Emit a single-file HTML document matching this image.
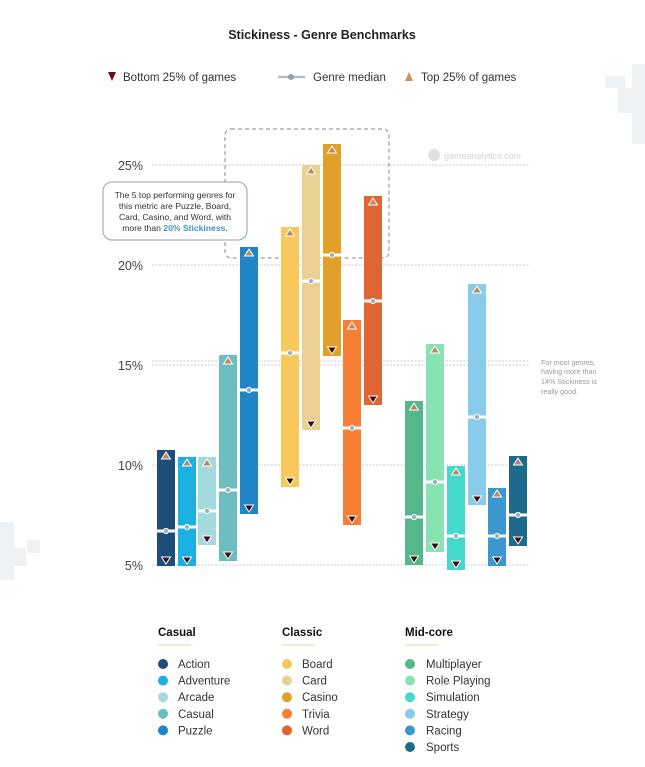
<!DOCTYPE html>
<html><head><meta charset="utf-8"><style>
html,body{margin:0;padding:0;background:#fff;}
svg{display:block;font-family:"Liberation Sans",sans-serif;}
</style></head><body>
<svg width="645" height="767" viewBox="0 0 645 767" xmlns="http://www.w3.org/2000/svg">
<rect width="645" height="767" fill="#fff"/>
<g fill="#eef2f5">
<rect x="632" y="64" width="13" height="80"/><rect x="605" y="76" width="20" height="12"/><rect x="618" y="88" width="14" height="25"/>
<rect x="0" y="522" width="14" height="58"/><rect x="14" y="548" width="12" height="18"/><rect x="27" y="540" width="13" height="13"/>
</g>
<text x="322" y="39" text-anchor="middle" font-size="12.5" font-weight="bold" fill="#222">Stickiness - Genre Benchmarks</text>
<polygon points="108,72 116,72 112,81" fill="#6b0f14"/>
<text x="123" y="81" font-size="11.5" fill="#333">Bottom 25% of games</text>
<line x1="278" y1="77" x2="305" y2="77" stroke="#b8bcc0" stroke-width="2.5"/>
<circle cx="291" cy="77" r="3" fill="#9aa0a6"/>
<text x="313" y="81" font-size="11.5" fill="#333">Genre median</text>
<polygon points="405,81 413,81 409,72" fill="#d0915a"/>
<text x="421" y="81" font-size="11.5" fill="#333">Top 25% of games</text>
<g stroke="#c5ccd3" stroke-width="1" stroke-dasharray="2,1.5">
<line x1="152" y1="165" x2="530" y2="165"/>
<line x1="152" y1="265" x2="530" y2="265"/>
<line x1="152" y1="361" x2="530" y2="361"/>
<line x1="152" y1="365" x2="530" y2="365"/>
<line x1="152" y1="465" x2="530" y2="465"/>
<line x1="152" y1="565" x2="530" y2="565"/>
</g>
<g font-size="12.5" fill="#444" text-anchor="end">
<text x="143" y="170">25%</text><text x="143" y="270">20%</text><text x="143" y="370">15%</text><text x="143" y="470">10%</text><text x="143" y="570">5%</text>
</g>
<circle cx="434" cy="155" r="6" fill="#dfe2e5"/>
<text x="444" y="159" font-size="9" fill="#d0d4d8">gameanalytics.com</text>
<rect x="225" y="129" width="164" height="129" rx="6" fill="none" stroke="#7e8e9a" stroke-width="1" stroke-dasharray="4,3"/>
<rect x="103" y="182" width="144" height="58" rx="9" fill="#fff" stroke="#8fa3b3" stroke-width="1"/>
<g font-size="8.6" fill="#333" text-anchor="middle">
<text x="175" y="198">The 5 top performing genres for</text>
<text x="175" y="209">this metric are Puzzle, Board,</text>
<text x="175" y="220">Card, Casino, and Word, with</text>
<text x="175" y="231">more than <tspan fill="#3b95c9" font-weight="bold">20% Stickiness</tspan>.</text>
</g>
<g font-size="7.2" fill="#999">
<text x="541" y="365">For most genres,</text><text x="541" y="374">having more than</text><text x="541" y="384">14% Stickiness is</text><text x="541" y="394">really good.</text>
</g>
<!-- bars -->
<g>
<rect x="157" y="450" width="18" height="116" fill="#1d4e79"/>
<rect x="178" y="457" width="18" height="109" fill="#1ab0e0"/>
<rect x="198" y="457" width="18" height="88" fill="#a3dadd"/>
<rect x="219" y="355" width="18" height="206" fill="#6cbdbd"/>
<rect x="240" y="247" width="18" height="267" fill="#2185c9"/>
<rect x="281" y="227" width="18" height="260" fill="#f8c95a"/>
<rect x="302" y="165" width="18" height="265" fill="#ebd093"/>
<rect x="323" y="144" width="18" height="212" fill="#e0a02a"/>
<rect x="343" y="320" width="18" height="205" fill="#f77e35"/>
<rect x="364" y="196" width="18" height="209" fill="#e06532"/>
<rect x="405" y="401" width="18" height="164" fill="#55b88a"/>
<rect x="426" y="344" width="18" height="208" fill="#88e3b2"/>
<rect x="447" y="466" width="18" height="104" fill="#45d8cc"/>
<rect x="468" y="284" width="18" height="221" fill="#88cbea"/>
<rect x="488" y="488" width="18" height="78" fill="#3c97cf"/>
<rect x="509" y="456" width="18" height="90" fill="#1d6a8c"/>
</g>
<g fill="#fff">
<rect x="156" y="529.5" width="20" height="3"/>
<rect x="177" y="525.5" width="20" height="3"/>
<rect x="197" y="509.5" width="20" height="3"/>
<rect x="218" y="488.5" width="20" height="3"/>
<rect x="239" y="388.5" width="20" height="3"/>
<rect x="280" y="351.5" width="20" height="3"/>
<rect x="301" y="279.5" width="20" height="3"/>
<rect x="322" y="253.5" width="20" height="3"/>
<rect x="342" y="426.5" width="20" height="3"/>
<rect x="363" y="299.5" width="20" height="3"/>
<rect x="404" y="515.5" width="20" height="3"/>
<rect x="425" y="480.5" width="20" height="3"/>
<rect x="446" y="534.5" width="20" height="3"/>
<rect x="467" y="415.5" width="20" height="3"/>
<rect x="487" y="534.5" width="20" height="3"/>
<rect x="508" y="513.5" width="20" height="3"/>
</g>
<g fill="#9fb0b8" stroke="#fff" stroke-width="1">
<circle cx="166" cy="531" r="2.6"/><circle cx="187" cy="527" r="2.6"/><circle cx="207" cy="511" r="2.6"/><circle cx="228" cy="490" r="2.6"/><circle cx="249" cy="390" r="2.6"/>
<circle cx="290" cy="353" r="2.6"/><circle cx="311" cy="281" r="2.6"/><circle cx="332" cy="255" r="2.6"/><circle cx="352" cy="428" r="2.6"/><circle cx="373" cy="301" r="2.6"/>
<circle cx="414" cy="517" r="2.6"/><circle cx="435" cy="482" r="2.6"/><circle cx="456" cy="536" r="2.6"/><circle cx="477" cy="417" r="2.6"/><circle cx="497" cy="536" r="2.6"/><circle cx="518" cy="515" r="2.6"/>
</g>
<g fill="#b98a62" stroke="#fff" stroke-width="1">
<polygon points="0,2 -4.5,9 4.5,9" transform="translate(166,450)"/>
<polygon points="0,2 -4.5,9 4.5,9" transform="translate(187,457)"/>
<polygon points="0,2 -4.5,9 4.5,9" transform="translate(207,457)"/>
<polygon points="0,2 -4.5,9 4.5,9" transform="translate(228,355)"/>
<polygon points="0,2 -4.5,9 4.5,9" transform="translate(249,247)"/>
<polygon points="0,2 -4.5,9 4.5,9" transform="translate(290,227)"/>
<polygon points="0,2 -4.5,9 4.5,9" transform="translate(311,165)"/>
<polygon points="0,2 -4.5,9 4.5,9" transform="translate(332,144)"/>
<polygon points="0,2 -4.5,9 4.5,9" transform="translate(352,320)"/>
<polygon points="0,2 -4.5,9 4.5,9" transform="translate(373,196)"/>
<polygon points="0,2 -4.5,9 4.5,9" transform="translate(414,401)"/>
<polygon points="0,2 -4.5,9 4.5,9" transform="translate(435,344)"/>
<polygon points="0,2 -4.5,9 4.5,9" transform="translate(456,466)"/>
<polygon points="0,2 -4.5,9 4.5,9" transform="translate(477,284)"/>
<polygon points="0,2 -4.5,9 4.5,9" transform="translate(497,488)"/>
<polygon points="0,2 -4.5,9 4.5,9" transform="translate(518,456)"/>
</g>
<g fill="#3b0b0f" stroke="#fff" stroke-width="1">
<polygon points="-4.5,-9 4.5,-9 0,-2" transform="translate(166,566)"/>
<polygon points="-4.5,-9 4.5,-9 0,-2" transform="translate(187,566)"/>
<polygon points="-4.5,-9 4.5,-9 0,-2" transform="translate(207,545)"/>
<polygon points="-4.5,-9 4.5,-9 0,-2" transform="translate(228,561)"/>
<polygon points="-4.5,-9 4.5,-9 0,-2" transform="translate(249,514)"/>
<polygon points="-4.5,-9 4.5,-9 0,-2" transform="translate(290,487)"/>
<polygon points="-4.5,-9 4.5,-9 0,-2" transform="translate(311,430)"/>
<polygon points="-4.5,-9 4.5,-9 0,-2" transform="translate(332,356)"/>
<polygon points="-4.5,-9 4.5,-9 0,-2" transform="translate(352,525)"/>
<polygon points="-4.5,-9 4.5,-9 0,-2" transform="translate(373,405)"/>
<polygon points="-4.5,-9 4.5,-9 0,-2" transform="translate(414,565)"/>
<polygon points="-4.5,-9 4.5,-9 0,-2" transform="translate(435,552)"/>
<polygon points="-4.5,-9 4.5,-9 0,-2" transform="translate(456,570)"/>
<polygon points="-4.5,-9 4.5,-9 0,-2" transform="translate(477,505)"/>
<polygon points="-4.5,-9 4.5,-9 0,-2" transform="translate(497,566)"/>
<polygon points="-4.5,-9 4.5,-9 0,-2" transform="translate(518,546)"/>
</g>
<!-- bottom legend -->
<g font-size="11.5" font-weight="bold" fill="#111">
<text x="158" y="636">Casual</text><text x="282" y="636">Classic</text><text x="405" y="636">Mid-core</text>
</g>
<g stroke="#e8d6a8" stroke-width="1">
<line x1="158" y1="645" x2="191" y2="645"/><line x1="282" y1="645" x2="315" y2="645"/><line x1="405" y1="645" x2="438" y2="645"/>
</g>
<g>
<circle cx="163" cy="664" r="5" fill="#1d4e79"/><circle cx="163" cy="680.6" r="5" fill="#1ab0e0"/><circle cx="163" cy="697.2" r="5" fill="#a3dadd"/><circle cx="163" cy="713.8" r="5" fill="#6cbdbd"/><circle cx="163" cy="730.4" r="5" fill="#2185c9"/>
<circle cx="287" cy="664" r="5" fill="#f8c95a"/><circle cx="287" cy="680.6" r="5" fill="#ebd093"/><circle cx="287" cy="697.2" r="5" fill="#e0a02a"/><circle cx="287" cy="713.8" r="5" fill="#f77e35"/><circle cx="287" cy="730.4" r="5" fill="#e06532"/>
<circle cx="410" cy="664" r="5" fill="#55b88a"/><circle cx="410" cy="680.6" r="5" fill="#88e3b2"/><circle cx="410" cy="697.2" r="5" fill="#45d8cc"/><circle cx="410" cy="713.8" r="5" fill="#88cbea"/><circle cx="410" cy="730.4" r="5" fill="#3c97cf"/><circle cx="410" cy="747" r="5" fill="#1d6a8c"/>
</g>
<g font-size="11.5" fill="#333">
<text x="178" y="668">Action</text><text x="178" y="684.6">Adventure</text><text x="178" y="701.2">Arcade</text><text x="178" y="717.8">Casual</text><text x="178" y="734.4">Puzzle</text>
<text x="302" y="668">Board</text><text x="302" y="684.6">Card</text><text x="302" y="701.2">Casino</text><text x="302" y="717.8">Trivia</text><text x="302" y="734.4">Word</text>
<text x="426" y="668">Multiplayer</text><text x="426" y="684.6">Role Playing</text><text x="426" y="701.2">Simulation</text><text x="426" y="717.8">Strategy</text><text x="426" y="734.4">Racing</text><text x="426" y="751">Sports</text>
</g>
</svg>
</body></html>
